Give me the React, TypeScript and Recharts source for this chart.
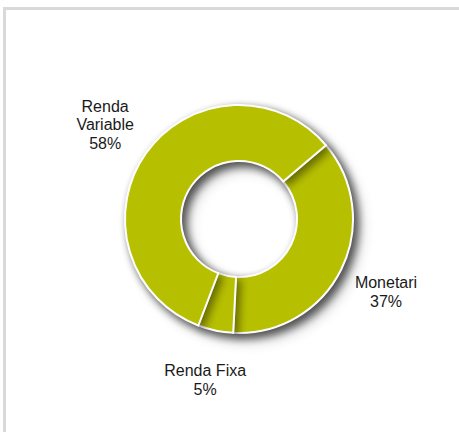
import { PieChart, Pie, Cell } from "recharts";

const categories = ["Monetari", "Renda Fixa", "Renda Variable"];
const labelLines = [["Monetari"], ["Renda Fixa"], ["Renda", "Variable"]];
const shares = [37, 5, 58];

const data = categories.map((name, i) => ({ name, value: shares[i], lines: labelLines[i] }));

const GREEN = "#b7c000";
const START = 40.3;

function renderLabel(props: any) {
  const { cx, cy, midAngle, outerRadius, index, value } = props;
  const rad = (Math.PI / 180) * midAngle;
  const r = outerRadius + 50;
  const x = cx + r * Math.cos(rad);
  const y = cy - r * Math.sin(rad);
  const lines = [...data[index].lines, `${value}%`];
  const lh = 18.5;
  const top = y - ((lines.length - 1) * lh) / 2;
  return (
    <text
      x={x}
      y={top}
      textAnchor="middle"
      dominantBaseline="central"
      fontSize={16}
      fontFamily="'Liberation Sans', Arial, sans-serif"
      fill="#1a1a1a"
    >
      {lines.map((l, i) => (
        <tspan key={i} x={x} dy={i === 0 ? 0 : lh}>
          {l}
        </tspan>
      ))}
    </text>
  );
}

export default function App() {
  return (
    <div style={{ position: "absolute", left: 0, top: 0, width: 459, height: 432, background: "#fff", overflow: "hidden" }}>
      <style>{`.donut-shadow { filter: drop-shadow(4px 4px 4px rgba(0,0,0,0.45)); }`}</style>
      <div
        style={{
          position: "absolute",
          left: 3,
          top: 7,
          width: 480,
          height: 460,
          border: "3px solid #d9d9d9",
          boxSizing: "border-box",
        }}
      />
      <div style={{ position: "absolute", left: 0, top: 0 }}>
        <PieChart width={459} height={432} margin={{ top: 0, right: 0, bottom: 0, left: 0 }}>
          <Pie
            data={data}
            dataKey="value"
            nameKey="name"
            cx={239}
            cy={219}
            innerRadius={58}
            outerRadius={114}
            startAngle={START}
            endAngle={START - 360}
            stroke="#ffffff"
            strokeWidth={2}
            className="donut-shadow"
            isAnimationActive={false}
          >
            {data.map((d) => (
              <Cell key={d.name} fill={GREEN} />
            ))}
          </Pie>
          <Pie
            data={data}
            dataKey="value"
            nameKey="name"
            cx={239}
            cy={219}
            innerRadius={58}
            outerRadius={114}
            startAngle={START}
            endAngle={START - 360}
            fill="none"
            stroke="none"
            label={renderLabel}
            labelLine={false}
            isAnimationActive={false}
          />
        </PieChart>
      </div>
    </div>
  );
}
